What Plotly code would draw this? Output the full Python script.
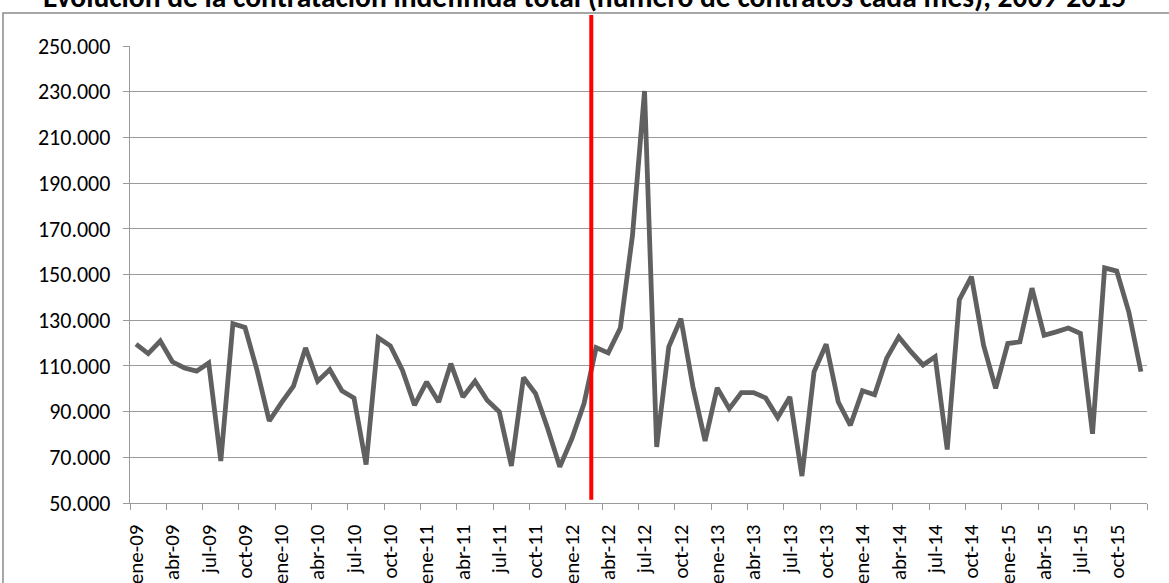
import plotly.graph_objects as go

# Monthly permanent hires, thousands of contracts (ene-09 .. dic-15)
months = [f"{m}-{y:02d}" for y in range(9, 16)
          for m in ["ene", "feb", "mar", "abr", "may", "jun",
                    "jul", "ago", "sep", "oct", "nov", "dic"]]

contratos_miles = [
    119.5, 115.4, 120.9, 111.8, 109.1, 107.7, 111.3, 68.4, 128.5, 126.8, 107.9, 85.9,
    93.8, 101.1, 117.9, 103.3, 108.4, 99.1, 96.0, 66.8, 122.3, 118.8, 108.1, 92.8,
    103.0, 94.2, 111.0, 96.4, 103.3, 95.0, 89.9, 66.2, 104.9, 97.9, 82.6, 65.8,
    78.2, 93.5, 118.0, 115.7, 126.6, 167.0, 230.3, 74.5, 118.3, 130.7, 100.8, 77.2,
    100.4, 91.3, 98.3, 98.3, 96.0, 87.4, 96.4, 61.8, 107.4, 119.5, 94.2, 84.0,
    99.1, 97.4, 113.4, 122.7, 116.2, 110.4, 114.0, 73.4, 139.0, 149.1, 119.1, 100.2,
    119.8, 120.5, 144.0, 123.4, 124.9, 126.6, 124.2, 80.3, 152.9, 151.5, 133.6, 107.5,
]
contratos = [v * 1000 for v in contratos_miles]

y_ticks = list(range(50000, 250001, 20000))
y_labels = [f"{v:,}".replace(",", ".") for v in y_ticks]

label_idx = list(range(0, len(months), 3))
label_txt = [months[i] for i in label_idx]
boundary_ticks = [i - 0.5 for i in range(0, len(months) + 1, 3)]

reforma_x = 37.6  # February 2012 labour reform

FONT = "Carlito, Calibri, Lato, 'Liberation Sans', sans-serif"
GRID = "#9a9a9a"

fig = go.Figure()
fig.add_trace(go.Scatter(
    x=list(range(len(months))), y=contratos, mode="lines",
    line=dict(color="#606060", width=4.8), hoverinfo="skip", showlegend=False,
))
# invisible trace on the overlay axis so its tick marks are drawn
fig.add_trace(go.Scatter(
    x=[0], y=[None], xaxis="x2", mode="lines", showlegend=False, hoverinfo="skip",
))

fig.update_layout(
    width=1169, height=583,
    margin=dict(l=130, r=22, t=46, b=80),
    paper_bgcolor="white", plot_bgcolor="white",
    font=dict(family=FONT, size=18, color="#000000"),
    xaxis=dict(
        range=[-0.5, len(months) - 0.5],
        tickvals=label_idx, ticktext=label_txt, tickangle=-90,
        ticks="", showgrid=False, zeroline=False,
        showline=True, linecolor=GRID, linewidth=1.3,
        tickfont=dict(family=FONT, size=21),
        ticklabelstandoff=12, automargin=False,
    ),
    xaxis2=dict(
        overlaying="x", side="bottom", anchor="y",
        range=[-0.5, len(months) - 0.5],
        tickvals=boundary_ticks, showticklabels=False,
        ticks="outside", ticklen=6, tickcolor=GRID, tickwidth=1.3,
        showgrid=False, zeroline=False, showline=False, automargin=False,
    ),
    yaxis=dict(
        range=[50000, 250000], tickvals=y_ticks, ticktext=y_labels,
        showgrid=True, gridcolor=GRID, gridwidth=1.3,
        zeroline=False, showline=True, linecolor=GRID, linewidth=1.3,
        ticks="outside", ticklen=6, tickcolor=GRID, tickwidth=1.3,
        tickfont=dict(family=FONT, size=22),
        ticklabelstandoff=8, automargin=False,
    ),
    shapes=[
        # chart frame
        dict(type="rect", xref="paper", yref="paper",
             x0=-0.1249, x1=1.2, y0=-0.4, y1=1.0722,
             line=dict(color="#8a8a8a", width=1.5), layer="below"),
        # reform marker
        dict(type="line", xref="x", yref="paper",
             x0=reforma_x, x1=reforma_x, y0=0.007, y1=1.068,
             line=dict(color="#ff0000", width=4)),
    ],
    annotations=[
        dict(text="<b>Evolución de la contratación indefinida total (número de contratos cada mes), 2009-2015</b>",
             xref="paper", yref="paper", x=0.447, y=1.064,
             xanchor="center", yanchor="bottom", showarrow=False,
             font=dict(family=FONT, size=29.5, color="#000000")),
    ],
)

fig.write_html("out.html")
